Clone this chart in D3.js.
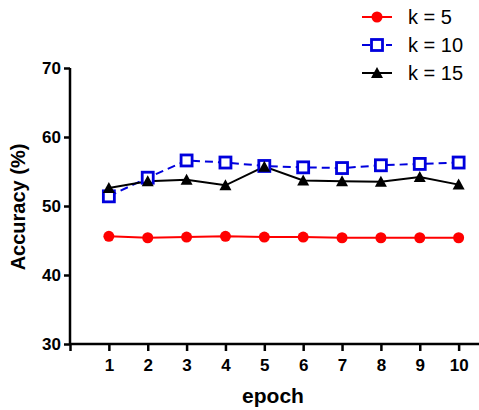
<!DOCTYPE html>
<html><head><meta charset="utf-8">
<script src="https://cdn.jsdelivr.net/npm/d3@7"></script>
<style>body{margin:0;background:#fff}svg{display:block}</style>
</head><body>
<svg id="c" width="479" height="410"></svg>
<script>
const epochs = [1,2,3,4,5,6,7,8,9,10];
const k5  = [45.6,45.4,45.5,45.6,45.5,45.5,45.4,45.4,45.4,45.4];
const k10 = [51.4,54.1,56.6,56.3,55.8,55.6,55.5,55.9,56.1,56.3];
const k15 = [52.6,53.6,53.8,53.0,55.7,53.7,53.6,53.5,54.2,53.1];
const yTicks = [30,40,50,60,70];
const seriesNames = ["k = 5","k = 10","k = 15"];

const svg = d3.select("#c");
const x = d3.scaleLinear().domain([0,10.55]).range([70,480]);
const y = d3.scaleLinear().domain([30,70]).range([344,68]);
const font = "Arial, 'Liberation Sans', sans-serif";

// axes
const yAx = svg.append("g").attr("transform","translate(70,0)")
  .call(d3.axisLeft(y).tickValues(yTicks).tickSize(6).tickPadding(3));
const xAx = svg.append("g").attr("transform","translate(0,344)")
  .call(d3.axisBottom(x).tickValues([0].concat(epochs)).tickSize(7).tickPadding(8)
    .tickFormat(d=>d===0?"":d));
[yAx,xAx].forEach(g=>{
  g.select(".domain").attr("stroke","#000").attr("stroke-width",2.5);
  g.selectAll(".tick line").attr("stroke","#000").attr("stroke-width",2.5);
  g.selectAll("text").attr("font-family",font).attr("font-weight","bold")
    .attr("font-size",17).attr("fill","#000");
});
xAx.select(".domain").attr("d","M70,0H480");
yAx.select(".domain").attr("d","M0,"+y(70)+"V"+(y(30)+1));

svg.append("text").attr("x",273).attr("y",403).attr("text-anchor","middle")
  .attr("font-family",font).attr("font-weight","bold").attr("font-size",21).text("epoch");
svg.append("text").attr("transform","translate(25,207) rotate(-90)").attr("text-anchor","middle")
  .attr("font-family",font).attr("font-weight","bold").attr("font-size",20).text("Accuracy (%)");

const line = d3.line().x((d,i)=>x(epochs[i])).y(d=>y(d));
const colors = ["#ff0000","#0000dd","#000000"];
const data = [k5,k10,k15];

function marker(g, type, cx, cy){
  if(type===0) g.append("circle").attr("cx",cx).attr("cy",cy).attr("r",5.5).attr("fill",colors[0]);
  else if(type===1) g.append("rect").attr("x",cx-5.5).attr("y",cy-5.5).attr("width",11).attr("height",11)
    .attr("fill","#fff").attr("stroke",colors[1]).attr("stroke-width",2.8);
  else g.append("path").attr("d",`M${cx},${cy-6}L${cx+6},${cy+5}L${cx-6},${cy+5}Z`).attr("fill",colors[2]);
}

data.forEach((s,k)=>{
  svg.append("path").attr("d",line(s)).attr("fill","none").attr("stroke",colors[k])
    .attr("stroke-width",2).attr("stroke-dasharray",k===1?"8,5":null);
});
data.forEach((s,k)=>{
  const g = svg.append("g");
  s.forEach((v,i)=>marker(g,k,x(epochs[i]),y(v)));
});

// legend
seriesNames.forEach((n,k)=>{
  const ly = 17 + k*28;
  const g = svg.append("g");
  g.append("line").attr("x1",362).attr("x2",392).attr("y1",ly).attr("y2",ly)
    .attr("stroke",colors[k]).attr("stroke-width",2).attr("stroke-dasharray",k===1?"8,4":null);
  marker(g,k,377,ly);
  g.append("text").attr("x",408).attr("y",ly+7).attr("font-family",font).attr("font-size",20)
    .attr("fill","#000").text(n);
});
</script>
</body></html>
